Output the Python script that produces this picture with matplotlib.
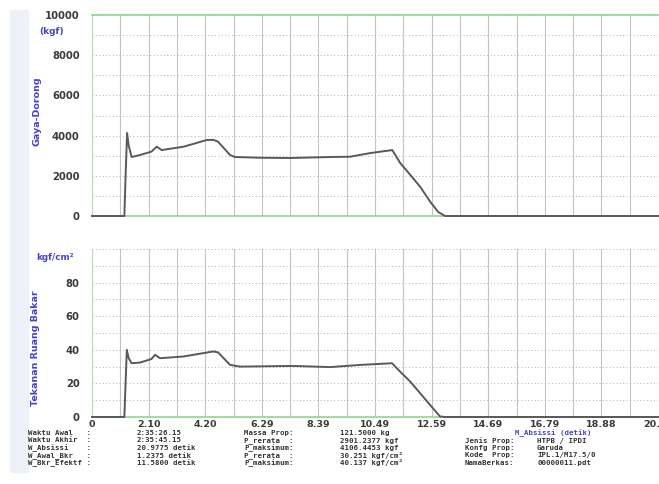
import matplotlib
matplotlib.use("Agg")
import matplotlib.pyplot as plt
from matplotlib.patches import Rectangle

# ---------------- data ----------------
t_end = 20.9775
time_s = [0.0, 1.20, 1.24, 1.30, 1.36, 1.47, 1.78, 2.20, 2.40, 2.58, 3.40,
          4.25, 4.49, 4.67, 5.12, 5.30, 6.20, 7.34, 8.83, 9.57, 10.31,
          11.13, 11.42, 11.80, 12.17, 12.54, 12.83, 13.09, 14.00, 20.9775]
thrust_kgf = [0, 0, 1800, 4130, 3500, 2935, 3035, 3200, 3450, 3280, 3450,
              3780, 3790, 3700, 3030, 2935, 2900, 2885, 2935, 2950, 3130,
              3280, 2640, 2040, 1440, 700, 200, 0, 0, 0]

time_p = [0.0, 1.20, 1.24, 1.29, 1.36, 1.47, 1.78, 2.20, 2.34, 2.52, 3.38,
          4.49, 4.67, 5.12, 5.49, 7.46, 8.83, 9.94, 11.12, 11.42, 11.80,
          12.17, 12.54, 12.90, 13.09, 14.00, 20.9775]
pressure = [0, 0, 18, 40, 35, 32, 32.4, 34.5, 37, 35, 36,
            39, 38.5, 31, 30, 30.4, 29.7, 31, 32, 27, 21,
            14, 7, 0.3, 0, 0, 0]

x_ticks = [t_end * k / 10 for k in range(11)]
x_labels = ["0", "2.10", "4.20", "6.29", "8.39", "10.49", "12.59",
            "14.69", "16.79", "18.88", "20.98"]
y1_ticks = [0, 2000, 4000, 6000, 8000, 10000]
y2_ticks = [0, 20, 40, 60, 80]

info_c1 = ["Waktu Awal   :", "Waktu Akhir  :", "W_Absissi    :",
           "W_Awal_Bkr   :", "W_Bkr_Efektf :"]
info_c2 = ["2:35:26.15", "2:35:45.15", "20.9775 detik",
           "1.2375 detik", "11.5800 detik"]
info_c3 = ["Massa Prop:", "P_rerata  :", "P_maksimum:",
           "P_rerata  :", "P_maksimum:"]
info_c4 = ["121.5000 kg", "2901.2377 kgf", "4106.4453 kgf",
           "30.251 kgf/cm²", "40.137 kgf/cm²"]
info_c5 = ["", "Jenis Prop:", "Konfg Prop:", "Kode  Prop:", "NamaBerkas:"]
info_c6 = ["", "HTPB / IPDI", "Garuda", "IPL.1/M17.5/0", "00000011.pdt"]

# ---------------- figure ----------------
W, H = 659, 484
fig = plt.figure(figsize=(W / 100, H / 100), dpi=100)

def fx(px):
    return px / W

def fy(py):
    return 1 - py / H

# light left strip
fig.patches.append(Rectangle((fx(10), fy(472)), fx(18), (462) / H,
                             transform=fig.transFigure, color="#eef0fa",
                             zorder=0))

green = "#8fd68f"
gridc = "#c4c4c4"
linec = "#595959"
tickc = "#3a3a3a"
blue = "#4444c8"

left, right = 92, 658
ax1 = fig.add_axes([fx(left), fy(216), (right - left) / W, (216 - 15) / H])
ax2 = fig.add_axes([fx(left), fy(417), (right - left) / W, (417 - 249) / H])

for ax, yt, ymax, ystep in [(ax1, y1_ticks, 10000, 1000), (ax2, y2_ticks, 100, 10)]:
    ax.set_xlim(0, t_end)
    ax.set_ylim(0, ymax)
    for k in range(1, 21):
        ax.axvline(t_end * k / 20, color=gridc, lw=0.8, zorder=1)
    for v in range(ystep, ymax + 1, ystep):
        ax.axhline(v, color="#b0b0b0", lw=0.7, ls=(0, (1, 2.5)), zorder=1)
    ax.set_yticks(yt)
    ax.set_yticklabels([str(v) for v in yt])
    ax.tick_params(axis="y", length=0, pad=9, labelsize=7.2, labelcolor=tickc)
    for lab in ax.get_yticklabels():
        lab.set_fontweight("bold")
    ax.spines["left"].set_color("#b8d8b8")
    ax.spines["bottom"].set_color(green)
    ax.spines["bottom"].set_linewidth(1.2)
    ax.spines["right"].set_visible(False)

ax1.spines["top"].set_color(green)
ax1.spines["top"].set_linewidth(1.2)
ax2.spines["top"].set_visible(False)

ax1.plot(time_s, thrust_kgf, color=linec, lw=1.4, zorder=3, clip_on=False)
ax2.plot(time_p, pressure, color=linec, lw=1.4, zorder=3, clip_on=False)

ax1.set_xticks([])
ax2.set_xticks(x_ticks)
ax2.set_xticklabels(x_labels)
ax2.tick_params(axis="x", length=0, pad=2, labelsize=6.8, labelcolor=tickc)
for lab in ax2.get_xticklabels():
    lab.set_fontweight("bold")

# axis titles
fig.text(fx(52), fy(32), "(kgf)", color=blue, fontsize=6.5, fontweight="bold",
         ha="center", va="center")
fig.text(fx(37), fy(111), "Gaya-Dorong", color=blue, fontsize=6.8,
         fontweight="bold", rotation=90, ha="center", va="center")
fig.text(fx(55), fy(258), "kgf/cm²", color=blue, fontsize=6.3,
         fontweight="bold", ha="center", va="center")
fig.text(fx(36), fy(348), "Tekanan Ruang Bakar", color=blue, fontsize=6.8,
         fontweight="bold", rotation=90, ha="center", va="center")

# info block
fs = 5.3
mono = dict(family="DejaVu Sans Mono", fontweight="bold", fontsize=fs,
            color="#333333", va="center", ha="left")
rows_y = [433, 440.5, 448, 455.5, 463]
cols_x = [28, 137, 244, 340, 465, 537]
for i, y in enumerate(rows_y):
    for cx, col in zip(cols_x, [info_c1, info_c2, info_c3, info_c4, info_c5, info_c6]):
        if col[i]:
            fig.text(fx(cx), fy(y), col[i], **mono)

fig.text(fx(515), fy(433), "M_Absissi (detik)", family="DejaVu Sans Mono",
         fontweight="bold", fontsize=fs, color=blue, va="center", ha="left")

fig.savefig("out.png", dpi=100)
